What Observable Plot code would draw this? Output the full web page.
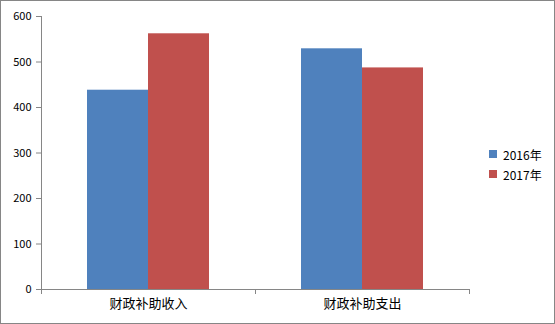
<!DOCTYPE html>
<html>
<head>
<meta charset="utf-8">
<script src="https://cdn.jsdelivr.net/npm/d3@7"></script>
<script src="https://cdn.jsdelivr.net/npm/@observablehq/plot@0.6"></script>
<style>
  html, body { margin: 0; padding: 0; background: #fff; }
  #wrap { position: relative; width: 555px; height: 324px; overflow: hidden; }
  #border { position: absolute; left: 0; top: 0; width: 555px; height: 324px; box-sizing: border-box; border: 1px solid #868686; pointer-events: none; }
  #legend { position: absolute; left: 489px; top: 144px; font-family: "Noto Sans CJK SC", sans-serif; font-size: 12px; color: #000; }
  .item { display: flex; align-items: center; height: 20px; }
  .sw { width: 8px; height: 8px; margin-right: 6px; }
</style>
</head>
<body>
<div id="wrap"><div id="border"></div><div id="legend"></div></div>
<script>
const categories = ["财政补助收入", "财政补助支出"];
const years = ["2016年", "2017年"];
const values2016 = [438, 529];
const values2017 = [562, 487];
const colors = ["#4F81BD", "#C0504D"];
const yTicks = [0, 100, 200, 300, 400, 500, 600];

const data = categories.flatMap((c, i) => [
  {cat: c, year: years[0], value: values2016[i]},
  {cat: c, year: years[1], value: values2017[i]}
]);

const axisColor = "#868686";

const chart = Plot.plot({
  width: 555,
  height: 324,
  marginLeft: 40,
  marginRight: 86,
  marginTop: 16,
  marginBottom: 35,
  style: {fontFamily: "'Noto Sans CJK SC', sans-serif", fontSize: "11px", color: "#000", background: "transparent"},
  fx: {domain: categories, padding: 0, label: null, axis: null},
  x: {domain: years, paddingInner: 0, paddingOuter: 0.74, axis: null},
  y: {domain: [0, 600], axis: null},
  color: {domain: years, range: colors},
  marks: [
    Plot.barY(data, {fx: "cat", x: "year", y: "value", fill: "year"}),
    Plot.ruleY([0], {stroke: axisColor}),
    Plot.axisY({ticks: yTicks, tickSize: 5, tickPadding: 5, stroke: axisColor, fill: "#000", label: null, fontSize: 11}),
    Plot.axisFx({anchor: "bottom", tickSize: 0, tickPadding: 9, fill: "#000", label: null, fontSize: 13})
  ]
});

// axis line and category boundary ticks, positioned from the library's fx and y scales
const fx = chart.scale("fx");
const ys = chart.scale("y");
const y0 = ys.apply(0);
const yTop = ys.apply(yTicks[yTicks.length - 1]);
const bounds = categories.map(c => fx.apply(c));
bounds.push(fx.apply(categories[categories.length - 1]) + fx.bandwidth);
const svg = d3.select(chart);
const g = svg.append("g").attr("stroke", axisColor);
g.append("line")
  .attr("x1", bounds[0] + 0.5).attr("x2", bounds[0] + 0.5)
  .attr("y1", yTop).attr("y2", y0);
g.selectAll("line.bt").data(bounds).join("line").attr("class", "bt")
  .attr("x1", d => d + 0.5).attr("x2", d => d + 0.5)
  .attr("y1", y0).attr("y2", y0 + 5);

const wrap = document.getElementById("wrap");
wrap.insertBefore(chart, wrap.firstChild);

const legend = d3.select("#legend");
years.forEach((y, i) => {
  const item = legend.append("div").attr("class", "item");
  item.append("div").attr("class", "sw").style("background", colors[i]);
  item.append("span").text(y);
});
</script>
</body>
</html>
